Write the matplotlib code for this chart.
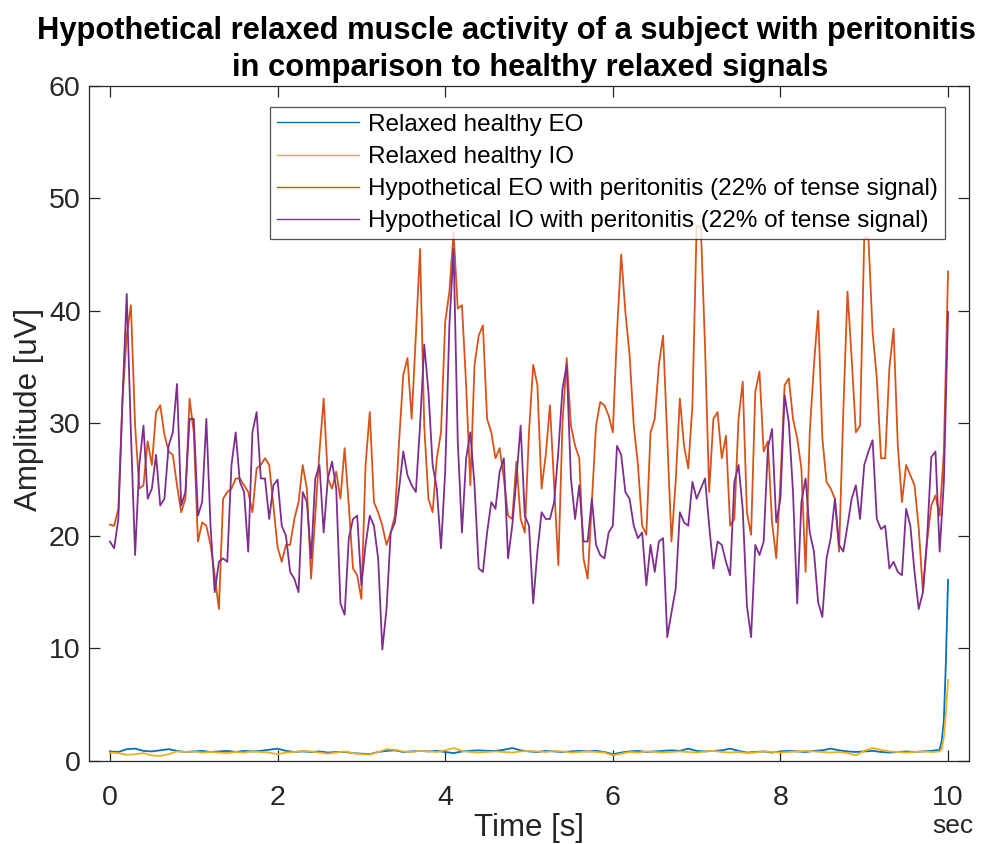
import numpy as np
import matplotlib
matplotlib.use("Agg")
import matplotlib.pyplot as plt

plt.rcParams['font.family'] = ['Liberation Sans', 'DejaVu Sans']

# ---------------- data ----------------
t_sick = np.linspace(0, 10, 201)

eo_sick = [
    21.0, 20.9, 22.4, 32.2, 37.8, 40.5, 29.8, 24.2, 24.5, 28.4,
    26.3, 31.0, 31.6, 29.0, 27.5, 27.2, 24.5, 22.1, 23.3, 32.2,
    29.2, 19.5, 21.2, 20.9, 19.2, 16.5, 13.5, 23.3, 23.9, 24.2,
    25.1, 25.1, 24.5, 23.9, 22.1, 26.0, 26.3, 26.9, 26.3, 22.7,
    19.0,
    17.7, 19.2, 19.2, 21.5, 23.0, 26.3, 24.2, 16.2, 21.8, 27.5,
    32.2, 25.1, 24.2, 25.7, 23.3, 27.8, 22.7, 17.1, 16.5, 14.4,
    26.3, 31.0, 23.0, 22.1, 20.9, 19.2, 20.3, 21.8, 28.4, 34.3,
    35.8, 30.4, 37.8, 45.5, 29.8, 23.3, 22.1, 26.9, 29.2, 39.0,
    41.7, 47.0, 40.2, 40.5, 33.4, 24.5, 35.2, 37.8, 38.7, 30.4,
    29.2, 26.9, 27.8, 25.1, 21.8, 21.5, 26.6, 21.5, 20.3, 29.2,
    35.2, 33.4, 24.2, 27.2, 31.6, 24.5, 17.4, 30.1, 35.8, 29.8,
    28.0, 26.9, 18.0, 16.2, 23.0, 29.8, 31.9, 31.6, 30.7, 29.2,
    38.1, 45.0, 39.9, 36.1, 29.8, 26.3, 20.9, 20.1, 29.2, 30.4,
    35.2, 37.8, 28.7, 19.5, 24.8, 32.2, 28.0, 26.0, 31.6, 47.5,
    47.5, 36.9, 23.9, 30.4, 31.0, 26.9, 28.9, 20.9, 21.5, 30.4,
    33.7, 22.1, 20.1, 32.8, 34.6, 27.5, 28.4, 21.2, 18.0, 24.8,
    33.4, 34.0, 30.4, 28.7, 26.0, 16.8, 29.2, 35.2, 40.0, 28.7,
    24.8, 24.2, 23.3, 18.6, 31.0, 41.7, 35.8, 29.2, 29.8, 46.5,
    46.5, 38.1, 34.0, 26.9, 26.9, 34.9, 38.4, 28.1, 23.0, 26.3,
    25.4, 24.5, 20.7, 15.0, 19.5, 22.7, 23.6, 21.8, 27.5, 43.5,
]

io_sick = [
    19.5, 18.9, 21.5, 32.2, 41.5, 29.2, 18.3, 26.3, 29.8, 23.3,
    24.2, 27.2, 22.7, 23.3, 28.0, 29.2, 33.5, 22.7, 23.9, 30.4,
    30.4, 21.8, 23.0, 30.4, 20.9, 15.0, 17.7, 18.0, 17.7, 26.3,
    29.2, 24.8, 23.9, 18.6, 29.2, 31.0, 25.1, 25.1, 21.5, 24.5,
    25.0,
    20.9, 20.0, 16.8, 16.2, 15.0, 23.9, 23.0, 18.0, 25.1, 26.3,
    20.3, 25.1, 26.6, 24.2, 14.0, 13.0, 19.8, 21.5, 21.8, 15.6,
    19.2, 21.8, 20.9, 18.0, 9.9, 13.5, 20.3, 21.2, 24.2, 27.5,
    25.4, 24.5, 23.9, 29.8, 37.0, 32.8, 26.3, 24.2, 18.9, 25.7,
    38.7, 45.5, 28.4, 20.3, 26.9, 29.2, 24.5, 17.1, 16.8, 20.3,
    23.0, 22.4, 25.7, 26.9, 18.0, 20.9, 25.1, 29.8, 21.8, 20.9,
    14.0, 18.6, 22.1, 21.5, 21.5, 23.0, 27.5, 33.1, 35.2, 25.1,
    21.5, 24.5, 19.5, 19.5, 23.3, 19.2, 18.3, 18.0, 20.3, 20.9,
    28.0, 27.2, 23.9, 23.3, 20.9, 19.8, 20.3, 15.6, 19.2, 16.8,
    19.5, 19.8, 11.0, 13.2, 15.3, 22.1, 21.2, 20.9, 24.8, 23.3,
    24.2, 25.1, 20.9, 17.1, 19.5, 19.2, 17.7, 16.5, 24.8, 26.3,
    22.4, 13.8, 11.0, 19.2, 18.3, 19.5, 27.8, 29.5, 21.2, 23.3,
    32.5, 30.1, 23.9, 14.0, 23.0, 25.1, 20.3, 18.6, 14.1, 12.8,
    18.0, 19.8, 23.3, 19.2, 18.6, 20.9, 23.3, 24.5, 21.5, 26.3,
    27.5, 28.5, 21.5, 20.6, 20.9, 17.1, 17.7, 16.8, 16.5, 22.4,
    20.9, 16.8, 13.5, 15.0, 19.8, 27.0, 27.5, 18.6, 24.8, 39.9,
]

t_healthy = [round(0.1 * i, 1) for i in range(100)] + [9.925, 9.95, 9.975, 10.0]

eo_healthy = [
    0.85, 0.80, 1.05, 1.10, 0.90, 0.85, 0.95, 1.05, 0.90, 0.80,
    0.85, 0.90, 0.80, 0.85, 0.90, 0.80, 0.90, 0.85, 0.90, 1.00,
    1.10, 0.90, 0.80, 0.85, 0.80, 0.85, 0.75, 0.80, 0.80, 0.70,
    0.65, 0.60, 0.80, 0.90, 0.95, 0.80, 0.85, 0.90, 0.85, 0.90,
    0.80, 0.70, 0.85, 0.90, 0.95, 0.90, 0.90, 1.00, 1.15, 0.95,
    0.85, 0.80, 0.90, 0.85, 0.80, 0.85, 0.90, 0.85, 0.90, 0.80,
    0.60, 0.75, 0.85, 0.90, 0.80, 0.85, 0.90, 0.95, 0.90, 1.10,
    0.90, 0.85, 0.90, 0.95, 1.10, 0.90, 0.75, 0.80, 0.85, 0.75,
    0.85, 0.90, 0.85, 0.80, 0.90, 0.95, 1.10, 0.95, 0.85, 0.80,
    0.85, 0.90, 0.80, 0.75, 0.80, 0.85, 0.80, 0.85, 0.90, 1.00,
    1.8, 3.6, 9.0, 16.1,
]

io_healthy = [
    0.75, 0.70, 0.55, 0.60, 0.70, 0.50, 0.45, 0.60, 0.85, 0.80,
    0.85, 0.75, 0.80, 0.75, 0.70, 0.80, 0.75, 0.85, 0.80, 0.75,
    0.60, 0.75, 0.80, 0.90, 0.85, 0.75, 0.65, 0.75, 0.85, 0.70,
    0.60, 0.55, 0.80, 1.05, 1.00, 0.85, 0.80, 0.90, 0.85, 0.80,
    0.95, 1.15, 0.90, 0.80, 0.75, 0.80, 0.85, 0.80, 0.75, 0.85,
    0.90, 0.85, 0.80, 0.90, 0.85, 0.75, 0.80, 0.85, 0.80, 0.75,
    0.50, 0.65, 0.80, 0.75, 0.85, 0.80, 0.75, 0.80, 0.85, 0.80,
    0.75, 0.85, 0.90, 0.80, 0.75, 0.80, 0.70, 0.75, 0.85, 0.80,
    0.75, 0.80, 0.85, 0.90, 0.85, 0.80, 0.75, 0.80, 0.70, 0.50,
    0.90, 1.15, 1.00, 0.85, 0.80, 0.75, 0.80, 0.85, 0.80, 0.85,
    1.1, 2.1, 4.3, 7.2,
]

labels = [
    "Relaxed healthy EO",
    "Relaxed healthy IO",
    "Hypothetical EO with peritonitis (22% of tense signal)",
    "Hypothetical IO with peritonitis (22% of tense signal)",
]
title_lines = [
    "Hypothetical relaxed muscle activity of a subject with peritonitis",
    "in comparison to healthy relaxed signals",
]
xticks = [0, 2, 4, 6, 8, 10]
yticks = [0, 10, 20, 30, 40, 50, 60]

# ---------------- figure ----------------
W, H = 984, 844
fig = plt.figure(figsize=(W / 100, H / 100), dpi=100)
ax = fig.add_axes([89 / W, 1 - 761 / H, 880 / W, 675.3 / H])

lw = 1.3
ax.plot(t_healthy, eo_healthy, color='#0072BD', lw=lw, label=labels[0])
ax.plot(t_healthy, io_healthy, color='#EDB120', lw=lw, label=labels[1])
ax.plot(t_sick, eo_sick, color='#D95319', lw=lw, label=labels[2])
ax.plot(t_sick, io_sick, color='#7E2F8E', lw=lw, label=labels[3])

ax.set_xlim(-0.25, 10.25)
ax.set_ylim(0, 60)
ax.set_xticks(xticks)
ax.set_yticks(yticks)

axc = '#262626'
for s in ax.spines.values():
    s.set_color(axc)
    s.set_linewidth(0.9)
ax.tick_params(axis='both', which='both', direction='in', length=8, width=0.9,
               color=axc, labelcolor=axc, labelsize=20.5, top=True, right=True)
ax.tick_params(axis='x', pad=17)
ax.tick_params(axis='y', pad=6)

ax.set_xlabel("Time [s]", fontsize=22.5, color=axc)
ax.xaxis.set_label_coords(0.5, -(813 - 761) / 675.3)
ax.set_ylabel("Amplitude [uV]", fontsize=22.5, color=axc)
ax.yaxis.set_label_coords(-(89 - 44) / 880, 0.52)

fig.text(506 / W, 1 - 31 / H, title_lines[0], fontsize=22.2, fontweight='bold',
         color='black', ha='center', va='center')
fig.text(530 / W, 1 - 68 / H, title_lines[1], fontsize=22.2, fontweight='bold',
         color='black', ha='center', va='center')

fig.text(953 / W, 1 - 826 / H, "sec", fontsize=19, color=axc,
         ha='center', va='center')

leg = ax.legend(loc='upper left', bbox_to_anchor=(270 / W, 1 - 107 / H),
                bbox_transform=fig.transFigure, fontsize=17.5, frameon=True,
                fancybox=False, edgecolor=axc, handlelength=3.4,
                handletextpad=0.35, borderpad=0.28, labelspacing=0.42,
                borderaxespad=0)
leg.get_frame().set_linewidth(0.9)
for ln in leg.get_lines():
    ln.set_linewidth(1.0)
leg.set_zorder(10)

fig.savefig("out.png", dpi=100)
